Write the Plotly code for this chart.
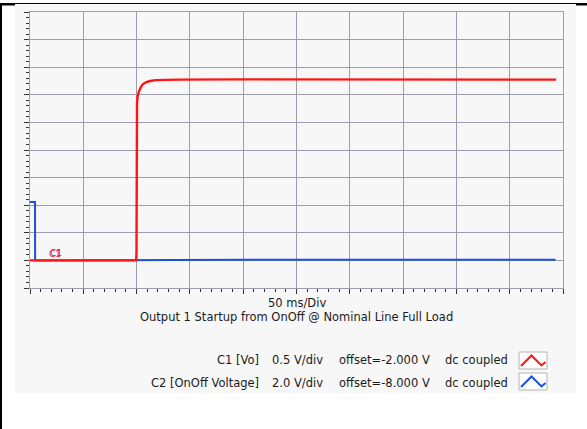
import plotly.graph_objects as go

# ---- data (time in ms, amplitude in screen divisions) ----
c1_t = [0, 99.6, 99.9, 100.1, 100.4, 101.0, 102.0, 104.0, 106.0, 109.0, 112.6, 118.0, 125.0, 140.0, 200.0, 300.0, 400.0, 493.5]
c1_v = [1.0, 1.0, 1.32, 5.5, 6.70, 6.95, 7.10, 7.28, 7.39, 7.46, 7.50, 7.53, 7.54, 7.55, 7.56, 7.55, 7.56, 7.55]
c2_t = [0, 4.7, 4.8, 100.0, 200.0, 300.0, 400.0, 493.0]
c2_v = [3.12, 3.12, 1.0, 1.02, 1.02, 1.02, 1.02, 1.02]

title_text = "Output 1 Startup from OnOff @ Nominal Line Full Load"
timebase = "50 ms/Div"
ch_names = ["C1 [Vo]", "C2 [OnOff Voltage]"]
ch_scale = ["0.5 V/div", "2.0 V/div"]
ch_offset = ["offset=-2.000 V", "offset=-8.000 V"]
ch_coupling = ["dc coupled", "dc coupled"]
ch_colors = ["#ff1414", "#1e50dc"]

W, H = 587, 429
L, R, T, B = 30, 563, 12, 288


def px(x):
    return (x - L) / (R - L)


def py(y):
    return (B - y) / (B - T)


fig = go.Figure()
fig.add_trace(go.Scatter(x=c2_t, y=c2_v, mode="lines",
                         line=dict(color=ch_colors[1], width=2), hoverinfo="skip"))
fig.add_trace(go.Scatter(x=c1_t, y=c1_v, mode="lines",
                         line=dict(color=ch_colors[0], width=2.4), hoverinfo="skip"))

grid = "#9d9dae"
tick_c = "#333333"
fig.update_xaxes(range=[0, 500], dtick=50, tick0=0, showgrid=True, gridcolor=grid, gridwidth=1,
                 showticklabels=False, ticks="outside", ticklen=5, tickcolor=tick_c, tickwidth=1,
                 minor=dict(dtick=10, ticks="outside", ticklen=3, tickcolor=tick_c, tickwidth=1, showgrid=False),
                 showline=True, linecolor=grid, mirror=True, zeroline=False, fixedrange=True)
fig.update_yaxes(range=[0, 10], dtick=1, tick0=0, showgrid=True, gridcolor=grid, gridwidth=1,
                 showticklabels=False, ticks="outside", ticklen=5, tickcolor=tick_c, tickwidth=1,
                 minor=dict(dtick=0.2, ticks="outside", ticklen=3, tickcolor=tick_c, tickwidth=1, showgrid=False),
                 showline=True, linecolor=grid, mirror=True, zeroline=False, fixedrange=True)

shapes = []
# light panel
shapes.append(dict(type="rect", xref="paper", yref="paper", x0=px(15), x1=px(576), y0=py(393), y1=py(5),
                   fillcolor="#f7f7f7", line=dict(width=0), layer="below"))
# black frame lines
shapes.append(dict(type="line", xref="paper", yref="paper", x0=px(0), x1=px(587), y0=py(3.5), y1=py(3.5),
                   line=dict(color="black", width=1.2)))
shapes.append(dict(type="rect", xref="paper", yref="paper", x0=px(0), x1=px(15), y0=py(5.5), y1=py(3),
                   fillcolor="black", line=dict(width=0)))
shapes.append(dict(type="rect", xref="paper", yref="paper", x0=px(576), x1=px(587), y0=py(5.5), y1=py(3),
                   fillcolor="black", line=dict(width=0)))
shapes.append(dict(type="line", xref="paper", yref="paper", x0=px(1), x1=px(1), y0=py(429), y1=py(3),
                   line=dict(color="black", width=2)))

# legend icons
for i, col in enumerate(ch_colors):
    top = 352 + i * 21
    shapes.append(dict(type="rect", xref="paper", yref="paper", x0=px(519), x1=px(547), y0=py(top + 17), y1=py(top),
                       fillcolor="white", line=dict(color="#b4b4b4", width=1)))
    pts = [(521, top + 14), (531.5, top + 3.5), (541.5, top + 13.5), (545.5, top + 10)]
    path = "M " + " L ".join(f"{px(a):.5f},{py(b):.5f}" for a, b in pts)
    shapes.append(dict(type="path", xref="paper", yref="paper", path=path,
                       line=dict(color=col, width=2)))

font = "DejaVu Sans"
fs = 11.5
txt_c = "#1a1a1a"
ann = []
ann.append(dict(text=timebase, x=px(296.5), y=py(303), xref="paper", yref="paper", showarrow=False,
                xanchor="center", yanchor="middle", font=dict(family=font, size=fs, color=txt_c)))
ann.append(dict(text=title_text, x=px(296.5), y=py(317), xref="paper", yref="paper", showarrow=False,
                xanchor="center", yanchor="middle", font=dict(family=font, size=fs, color=txt_c)))
for i in range(2):
    yy = py(360 + i * 23)
    ann.append(dict(text=ch_names[i], x=px(261), y=yy, xref="paper", yref="paper", showarrow=False,
                    xanchor="right", yanchor="middle", font=dict(family=font, size=fs, color=txt_c)))
    ann.append(dict(text=ch_scale[i], x=px(270), y=yy, xref="paper", yref="paper", showarrow=False,
                    xanchor="left", yanchor="middle", font=dict(family=font, size=fs, color=txt_c)))
    ann.append(dict(text=ch_offset[i], x=px(337), y=yy, xref="paper", yref="paper", showarrow=False,
                    xanchor="left", yanchor="middle", font=dict(family=font, size=fs, color=txt_c)))
    ann.append(dict(text=ch_coupling[i], x=px(443), y=yy, xref="paper", yref="paper", showarrow=False,
                    xanchor="left", yanchor="middle", font=dict(family=font, size=fs, color=txt_c)))
# channel ground markers
ann.append(dict(text="C1", x=px(55.5), y=py(253), xref="paper", yref="paper", showarrow=False,
                xanchor="center", yanchor="middle", font=dict(family=font, size=9, color=ch_colors[1])))
ann.append(dict(text="C1", x=px(55), y=py(253.5), xref="paper", yref="paper", showarrow=False,
                xanchor="center", yanchor="middle", font=dict(family=font, size=9, color=ch_colors[0])))

fig.update_layout(width=W, height=H, margin=dict(l=L, r=W - R, t=T, b=H - B, pad=0),
                  paper_bgcolor="white", plot_bgcolor="#f9f9f9", showlegend=False,
                  shapes=shapes, annotations=ann)

fig.write_html("out.html", config=dict(displayModeBar=False, staticPlot=True),
               post_script="document.body.style.margin='0';document.body.style.padding='0';")
